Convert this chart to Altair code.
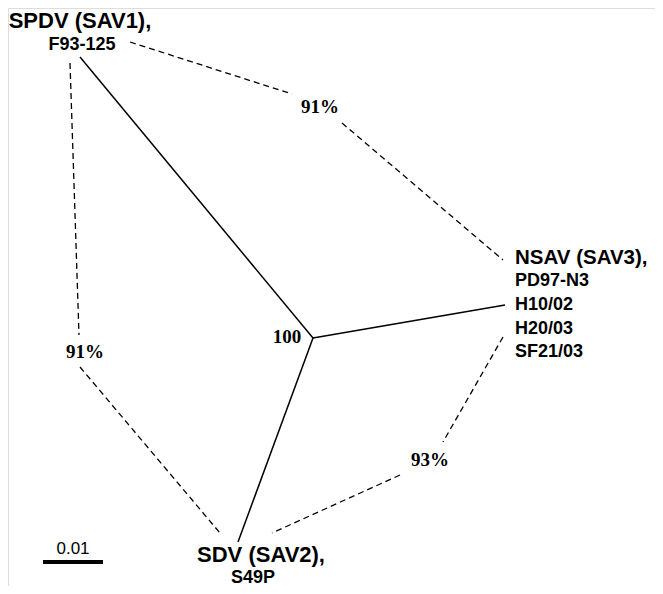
import altair as alt
import pandas as pd

# Node positions (image pixel space) of the unrooted tree
center = (313, 338)
tip_names = ["SPDV", "NSAV", "SDV"]
tip_x = [80, 505, 238]
tip_y = [57, 305, 542]

# Dashed identity connectors (segments)
dash_x1 = [130, 342, 70, 80, 503, 400]
dash_y1 = [42, 123, 63, 367, 337, 475]
dash_x2 = [292, 503, 79, 220, 443, 272]
dash_y2 = [94, 260, 335, 533, 442, 533]

# Percent identity labels
pct_text = ["91%", "91%", "93%", "100"]
pct_x = [320, 85, 430, 287]
pct_y = [107, 352, 460, 337]

# Big group labels
grp_text = ["SPDV (SAV1),", "NSAV (SAV3),", "SDV (SAV2),"]
grp_x = [80, 515, 261]
grp_y = [21, 258, 555]
grp_size = [22, 20.5, 22]

# Isolate labels
iso_text = ["F93-125", "PD97-N3", "H10/02", "H20/03", "SF21/03", "S49P"]
iso_x = [82, 515, 515, 515, 515, 253]
iso_y = [45, 281, 305, 329, 352, 579]

# Scale bar
bar_x = [43, 103]
bar_y = 562
bar_label = "0.01"

W, H = 647, 578
xs = alt.Scale(domain=[8, 8 + W], nice=False, zero=False)
ys = alt.Scale(domain=[8, 8 + H], nice=False, zero=False, reverse=True)

solid = pd.DataFrame({"x": [center[0]] * 3, "y": [center[1]] * 3, "x2": tip_x, "y2": tip_y, "n": tip_names})
dashed = pd.DataFrame({"x": dash_x1, "y": dash_y1, "x2": dash_x2, "y2": dash_y2})
pct = pd.DataFrame({"x": pct_x, "y": pct_y, "t": pct_text})
grp = pd.DataFrame({"x": grp_x, "y": grp_y, "t": grp_text, "s": grp_size})
iso = pd.DataFrame({"x": iso_x, "y": iso_y, "t": iso_text})
bar = pd.DataFrame({"x": [bar_x[0]], "x2": [bar_x[1]], "y": [bar_y], "t": [bar_label]})

def X(f="x"):
    return alt.X(f"{f}:Q", scale=xs, axis=None)

def Y(f="y"):
    return alt.Y(f"{f}:Q", scale=ys, axis=None)

def txt(df, align, size, baseline="middle", font="Liberation Sans", weight="bold"):
    return alt.Chart(df).mark_text(font=font, fontWeight=weight, fontSize=size, color="black",
                                   align=align, baseline=baseline).encode(x=X(), y=Y(), text="t:N")

l_solid = alt.Chart(solid).mark_rule(color="black", strokeWidth=1.5).encode(
    x=X(), y=Y(), x2="x2:Q", y2="y2:Q")
l_dash = alt.Chart(dashed).mark_rule(color="black", strokeWidth=1.3, strokeDash=[6, 4]).encode(
    x=X(), y=Y(), x2="x2:Q", y2="y2:Q")
l_pct = txt(pct, "center", 19, font="Liberation Serif")

layers = [l_solid, l_dash, l_pct,
          txt(grp.iloc[[0, 2]], "center", 22),
          txt(grp.iloc[[1]], "left", 20.5),
          txt(iso.iloc[[0]], "center", 18),
          txt(iso.iloc[1:5], "left", 18),
          alt.Chart(iso.iloc[[5]]).mark_text(font="Liberation Sans", fontWeight="bold", fontSize=18,
                                             color="black", align="center", baseline="alphabetic",
                                             dy=4).encode(x=X(), y=Y(), text="t:N")]

l_bar = alt.Chart(bar).mark_rule(color="black", strokeWidth=4).encode(x=X(), x2="x2:Q", y=Y())
l_bar_t = alt.Chart(bar).transform_calculate(xm="(datum.x + datum.x2) / 2", ym="datum.y - 13").mark_text(
    font="Liberation Sans", fontSize=17, color="black", baseline="middle").encode(
    x=X("xm"), y=Y("ym"), text="t:N")
layers += [l_bar, l_bar_t]

chart = alt.layer(*layers).properties(
    width=W, height=H, autosize="none", padding=0
).configure_view(stroke=None).configure(background="white")

chart.save("out.html", embed_options={"renderer": "svg", "actions": False})
